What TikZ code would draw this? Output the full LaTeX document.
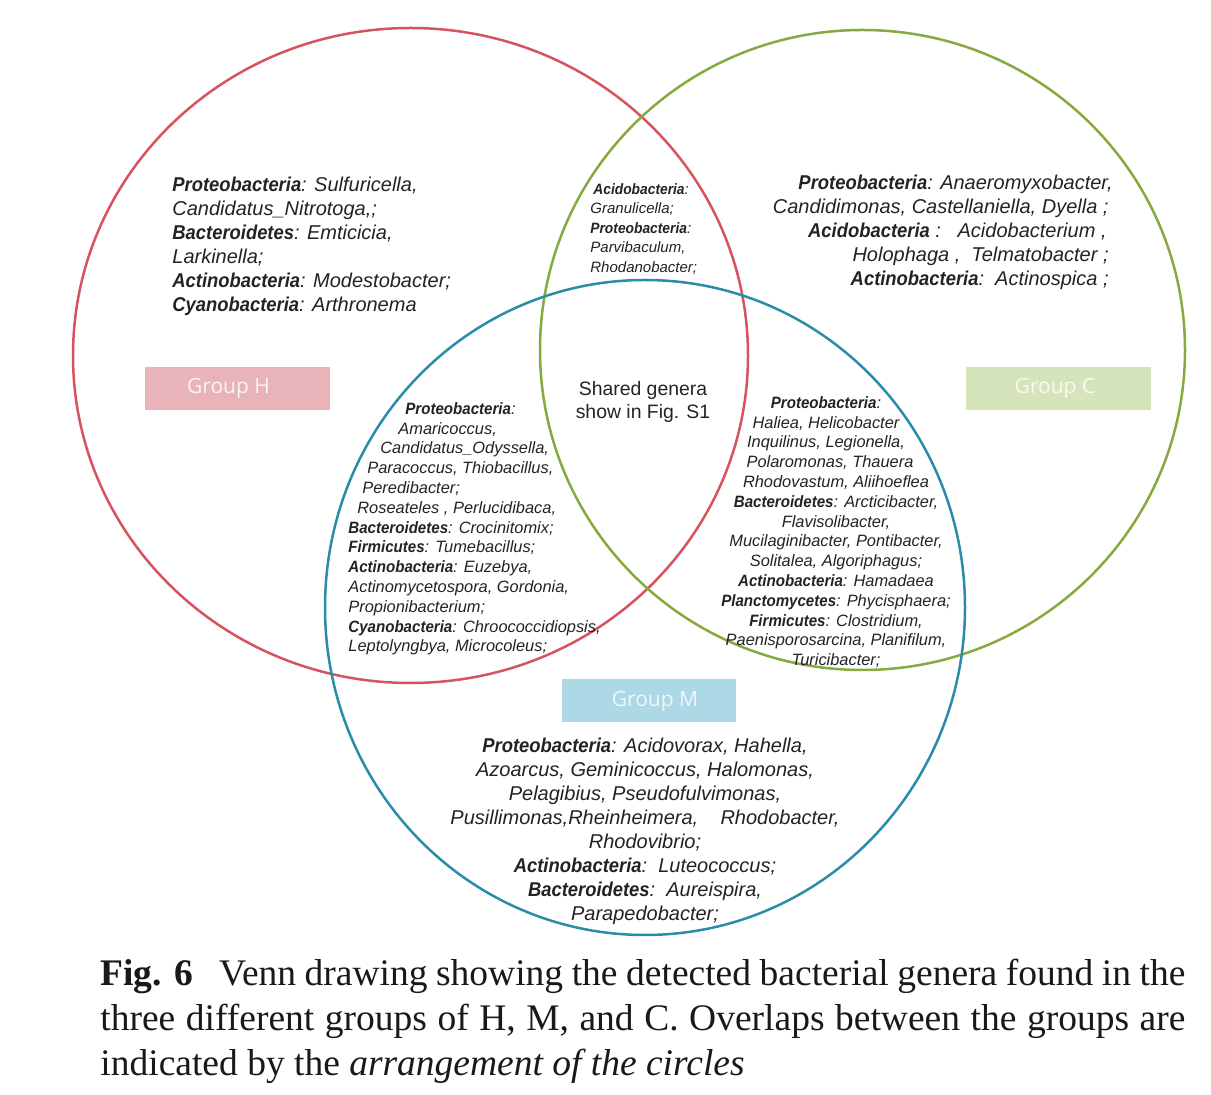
\documentclass[tikz,border=0pt]{standalone}
\usepackage{fontspec}
\newfontfamily\arialf[BoldItalicFeatures={FakeStretch=0.92}]{Liberation Sans}
\newfontfamily\timesf{Liberation Serif}
\newfontfamily\opensf{Open Sans}
\definecolor{hred}{RGB}{213,84,94}
\definecolor{cgreen}{RGB}{134,170,62}
\definecolor{mblue}{RGB}{42,140,168}
\definecolor{hfill}{RGB}{232,180,186}
\definecolor{cfill}{RGB}{214,228,188}
\definecolor{mfill}{RGB}{173,216,230}
\definecolor{txt}{RGB}{35,35,35}
\begin{document}
\begin{tikzpicture}[x=0.5pt,y=-0.5pt,
  ring/.style={line width=1.25pt},
  gen/.style={inner sep=0pt, text=txt, font=\arialf\itshape},
  bigtxt/.style={gen, font=\arialf\itshape\fontsize{10}{12}\selectfont},
  midtxt/.style={gen, font=\arialf\itshape\fontsize{8.2}{9.9}\selectfont},
  smalltxt/.style={gen, font=\arialf\itshape\fontsize{7.5}{9.75}\selectfont},
  grp/.style={inner sep=0pt, minimum width=92.5pt, minimum height=21.5pt, font=\opensf\fontsize{10.5}{12}\selectfont}
]
\useasboundingbox (0,0) rectangle (1211,1095);
\fill[white] (0,0) rectangle (1211,1095);

% circles
\draw[ring, hred] (410.5,355.5) ellipse [x radius=337.5, y radius=327.5];
\draw[ring, cgreen] (862.5,350) ellipse [x radius=322.5, y radius=320];
\draw[ring, mblue] (645,607.5) ellipse [x radius=320, y radius=327.5];

% group labels
\node[grp, fill=hfill, text=white!85!hfill] (gh) at (237.5,388.5) {Group H\kern9pt};
\node[grp, fill=cfill, text=white!80!cfill] (gc) at (1058.5,388.5) {Group C\kern3.5pt};
\node[grp, fill=mfill, minimum width=87pt, text=white!80!mfill] (gm) at (649,701) {\kern6pt Group M};

% H only
\node[bigtxt, anchor=north west, align=left] (honly) at (172,177) {%
\textbf{Proteobacteria}: Sulfuricella,\\
Candidatus\_Nitrotoga,;\\
\textbf{Bacteroidetes}: Emticicia,\\
Larkinella;\\
\textbf{Actinobacteria}: Modestobacter;\\
\textbf{Cyanobacteria}: Arthronema};

% H and C
\node[smalltxt, anchor=north west, align=left] (hc) at (590,183) {%
\hspace*{1.5pt}\textbf{Acidobacteria}:\\
Granulicella;\\
\textbf{Proteobacteria}:\\
Parvibaculum,\\
Rhodanobacter;};

% C only
\node[bigtxt, anchor=north east, align=right] (conly) at (1113,175) {%
\textbf{Proteobacteria}: Anaeromyxobacter,\\
Candidimonas, Castellaniella, Dyella ;\kern2pt\\
\textbf{Acidobacteria} :\ \ \ Acidobacterium ,\kern3pt\\
Holophaga ,\ \ Telmatobacter ;\kern2pt\\
\textbf{Actinobacteria}:\ \ Actinospica ;\kern2pt};

% shared
\node[inner sep=0pt, text=txt, font=\arialf\fontsize{9.7}{11.5}\selectfont, align=center] (shared) at (643,402) {Shared genera\\show in Fig. S1};

% H and M
\node[midtxt, anchor=north west, align=left] (hm) at (348,402) {%
\hspace*{28.5pt}\textbf{Proteobacteria}:\\
\hspace*{25pt}Amaricoccus,\\
\hspace*{16pt}Candidatus\_Odyssella,\\
\hspace*{9.5pt}Paracoccus, Thiobacillus,\\
\hspace*{7pt}Peredibacter;\\
\hspace*{4.5pt}Roseateles , Perlucidibaca,\\
\textbf{Bacteroidetes}: Crocinitomix;\\
\textbf{Firmicutes}: Tumebacillus;\\
\textbf{Actinobacteria}: Euzebya,\\
Actinomycetospora, Gordonia,\\
Propionibacterium;\\
\textbf{Cyanobacteria}: Chroococcidiopsis,\\
Leptolyngbya, Microcoleus;};

% M and C
\node[midtxt, anchor=north, align=center] (mc) at (836,396) {%
\textbf{Proteobacteria}:\kern10pt\\
Haliea, Helicobacter\kern10pt\\
Inquilinus, Legionella,\kern10pt\\
Polaromonas, Thauera\kern6pt\\
Rhodovastum, Aliihoeflea\\
\textbf{Bacteroidetes}: Arcticibacter,\\
Flavisolibacter,\\
Mucilaginibacter, Pontibacter,\\
Solitalea, Algoriphagus;\\
\textbf{Actinobacteria}: Hamadaea\\
\textbf{Planctomycetes}: Phycisphaera;\\
\textbf{Firmicutes}: Clostridium,\\
Paenisporosarcina, Planifilum,\\
Turicibacter;};

% M only
\node[bigtxt, anchor=north, align=center] (monly) at (645,738) {%
\textbf{Proteobacteria}: Acidovorax, Hahella,\\
Azoarcus, Geminicoccus, Halomonas,\\
Pelagibius, Pseudofulvimonas,\\
Pusillimonas,Rheinheimera,\ \ \ \ Rhodobacter,\\
Rhodovibrio;\\
\textbf{Actinobacteria}:\ \ Luteococcus;\\
\textbf{Bacteroidetes}:\ \ Aureispira,\\
Parapedobacter;};

% caption
\node[inner sep=0pt, anchor=north west, align=left, text=black!90, font=\timesf\fontsize{18.75}{22.5}\selectfont] (cap) at (100,959) {%
\makebox[542.5pt][s]{\textbf{Fig. 6}\hspace{0.7em}Venn drawing showing the detected bacterial genera found in the}\\
\makebox[542.5pt][s]{three different groups of H, M, and C. Overlaps between the groups are}\\
indicated by the \textit{arrangement of the circles}};
\end{tikzpicture}
\end{document}
